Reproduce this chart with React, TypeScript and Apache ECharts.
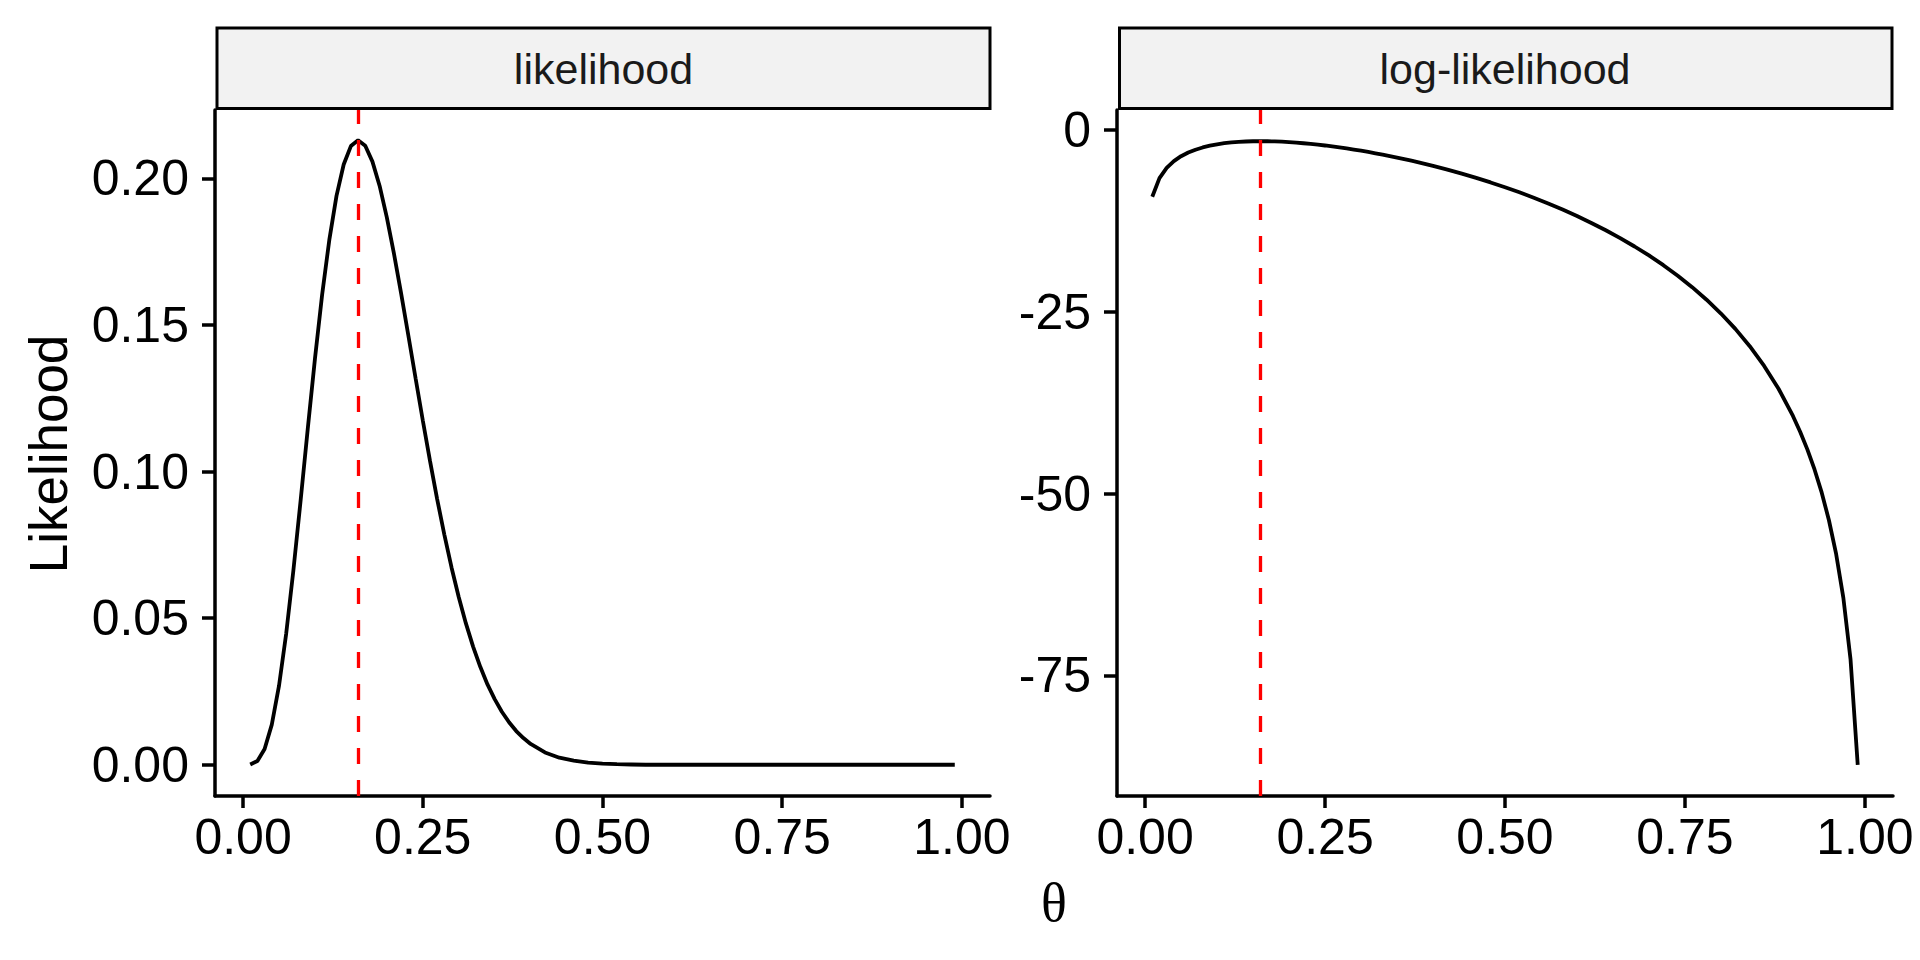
import React, { useEffect, useRef } from "react";
import * as echarts from "echarts";

// theta grid (x values)
const thetaValues = [
  0.01, 0.02, 0.03, 0.04, 0.05, 0.06, 0.07, 0.08, 0.09, 0.1,
  0.11, 0.12, 0.13, 0.14, 0.15, 0.16, 0.17, 0.18, 0.19, 0.2,
  0.21, 0.22, 0.23, 0.24, 0.25, 0.26, 0.27, 0.28, 0.29, 0.3,
  0.31, 0.32, 0.33, 0.34, 0.35, 0.36, 0.37, 0.38, 0.39, 0.4,
  0.42, 0.44, 0.46, 0.48, 0.5, 0.52, 0.54, 0.56, 0.58, 0.6,
  0.62, 0.64, 0.66, 0.68, 0.7, 0.72, 0.74, 0.76, 0.78, 0.8,
  0.82, 0.84, 0.86, 0.88, 0.9, 0.91, 0.92, 0.93, 0.94, 0.95,
  0.96, 0.97, 0.98, 0.99,
];

const likelihoodValues = [
  0.0001, 0.0013, 0.0054, 0.0137, 0.0269, 0.0447, 0.0662, 0.0899, 0.1145, 0.1384,
  0.1603, 0.179, 0.194, 0.2047, 0.211, 0.213, 0.2111, 0.2057, 0.1974, 0.1867,
  0.1742, 0.1606, 0.1463, 0.1318, 0.1175, 0.1037, 0.0906, 0.0785, 0.0673, 0.0572,
  0.0482, 0.0403, 0.0334, 0.0274, 0.0224, 0.0181, 0.0145, 0.0115, 0.0091, 0.0071,
  0.0042, 0.0024, 0.0014, 0.0007, 0.0004, 0.0002, 0.0001, 0.0, 0.0, 0.0,
  0.0, 0.0, 0.0, 0.0, 0.0, 0.0, 0.0, 0.0, 0.0, 0.0,
  0.0, 0.0, 0.0, 0.0, 0.0, 0.0, 0.0, 0.0, 0.0, 0.0,
  0.0, 0.0, 0.0, 0.0,
];

const logLikValues = [
  -9.19, -6.63, -5.22, -4.29, -3.61, -3.11, -2.72, -2.41, -2.17, -1.98,
  -1.83, -1.72, -1.64, -1.59, -1.56, -1.55, -1.56, -1.58, -1.62, -1.68,
  -1.75, -1.83, -1.92, -2.03, -2.14, -2.27, -2.4, -2.55, -2.7, -2.86,
  -3.03, -3.21, -3.4, -3.6, -3.8, -4.01, -4.23, -4.46, -4.7, -4.95,
  -5.46, -6.01, -6.6, -7.22, -7.88, -8.58, -9.33, -10.11, -10.95, -11.84,
  -12.79, -13.79, -14.87, -16.03, -17.26, -18.6, -20.05, -21.62, -23.35, -25.25,
  -27.36, -29.74, -32.45, -35.59, -39.33, -41.5, -43.93, -46.69, -49.88, -53.67,
  -58.31, -64.31, -72.79, -87.3,
];

const mleTheta = 0.16;
const panelTitles = ["likelihood", "log-likelihood"];
const xTicks = [0, 0.25, 0.5, 0.75, 1];
const likTicks = [0, 0.05, 0.1, 0.15, 0.2];
const logTicks = [-75, -50, -25, 0];

const SANS = "'Liberation Sans', Arial, Helvetica, sans-serif";

export default function App() {
  const ref = useRef<HTMLDivElement>(null);

  useEffect(() => {
    if (!ref.current) return;
    const chart = echarts.init(ref.current, null, { renderer: "svg" });

    const axisLine = { show: true, onZero: false, lineStyle: { color: "#000", width: 3.5 } };
    const tickStyle = { color: "#000", width: 3.5 };

    const makeX = (gridIndex: number) => ({
      type: "value",
      gridIndex,
      min: -0.039,
      max: 1.039,
      axisLine,
      axisTick: { show: true, length: 12, lineStyle: tickStyle, customValues: xTicks },
      axisLabel: {
        customValues: xTicks,
        formatter: (v: number) => v.toFixed(2),
        fontSize: 50,
        color: "#000",
        fontFamily: SANS,
        margin: 16,
      },
      splitLine: { show: false },
    });

    const markLine = {
      silent: true,
      symbol: ["none", "none"],
      label: { show: false },
      lineStyle: { color: "#FF0000", width: 3.3, type: [16, 16] },
      data: [{ xAxis: mleTheta }],
      z: 10,
    };

    const option: any = {
      animation: false,
      backgroundColor: "#fff",
      grid: [
        { left: 215, top: 110, width: 775, height: 686, containLabel: false, outerBoundsMode: "none" },
        { left: 1117, top: 110, width: 776, height: 686, containLabel: false, outerBoundsMode: "none" },
      ],
      xAxis: [makeX(0), makeX(1)],
      yAxis: [
        {
          type: "value",
          gridIndex: 0,
          min: -0.01065,
          max: 0.2233,
          axisLine,
          axisTick: { show: true, length: 13, lineStyle: tickStyle, customValues: likTicks },
          axisLabel: {
            customValues: likTicks,
            formatter: (v: number) => v.toFixed(2),
            fontSize: 50,
            color: "#000",
            fontFamily: SANS,
            margin: 26,
          },
          splitLine: { show: false },
        },
        {
          type: "value",
          gridIndex: 1,
          min: -91.59,
          max: 2.74,
          axisLine,
          axisTick: { show: true, length: 13, lineStyle: tickStyle, customValues: logTicks },
          axisLabel: {
            customValues: logTicks,
            formatter: (v: number) => String(Math.round(v)),
            fontSize: 50,
            color: "#000",
            fontFamily: SANS,
            margin: 26,
          },
          splitLine: { show: false },
        },
      ],
      series: [
        {
          type: "line",
          xAxisIndex: 0,
          yAxisIndex: 0,
          data: thetaValues.map((t, i) => [t, likelihoodValues[i]]),
          showSymbol: false,
          symbol: "none",
          smooth: false,
          lineStyle: { color: "#000", width: 3.8 },
          markLine,
        },
        {
          type: "line",
          xAxisIndex: 1,
          yAxisIndex: 1,
          data: thetaValues.map((t, i) => [t, logLikValues[i]]),
          showSymbol: false,
          symbol: "none",
          smooth: false,
          lineStyle: { color: "#000", width: 3.8 },
          markLine,
        },
      ],
      graphic: [
        {
          type: "rect",
          shape: { x: 217, y: 28, width: 773, height: 80.5 },
          style: { fill: "#F2F2F2", stroke: "#000", lineWidth: 3 },
        },
        {
          type: "rect",
          shape: { x: 1119.5, y: 28, width: 772.5, height: 80.5 },
          style: { fill: "#F2F2F2", stroke: "#000", lineWidth: 3 },
        },
        {
          type: "text",
          x: 603.5,
          y: 69,
          style: {
            text: panelTitles[0],
            fontSize: 43,
            fontFamily: SANS,
            fill: "#1A1A1A",
            align: "center",
            verticalAlign: "middle",
            textAlign: "center",
            textVerticalAlign: "middle",
          },
        },
        {
          type: "text",
          x: 1505,
          y: 69,
          style: {
            text: panelTitles[1],
            fontSize: 43,
            fontFamily: SANS,
            fill: "#1A1A1A",
            align: "center",
            verticalAlign: "middle",
            textAlign: "center",
            textVerticalAlign: "middle",
          },
        },
        {
          type: "text",
          x: 48,
          y: 454,
          rotation: Math.PI / 2,
          style: {
            text: "Likelihood",
            fontSize: 53,
            fontFamily: SANS,
            fill: "#000",
            align: "center",
            verticalAlign: "middle",
            textAlign: "center",
            textVerticalAlign: "middle",
          },
        },
        {
          type: "text",
          x: 1054,
          y: 903,
          style: {
            text: "θ",
            fontSize: 54,
            fontFamily: "'Liberation Serif', 'DejaVu Serif', serif",
            fill: "#000",
            align: "center",
            verticalAlign: "middle",
            textAlign: "center",
            textVerticalAlign: "middle",
          },
        },
      ],
    };

    chart.setOption(option);
    return () => chart.dispose();
  }, []);

  return (
    <div
      ref={ref}
      style={{ position: "fixed", left: 0, top: 0, width: 1920, height: 960, background: "#fff" }}
    />
  );
}
